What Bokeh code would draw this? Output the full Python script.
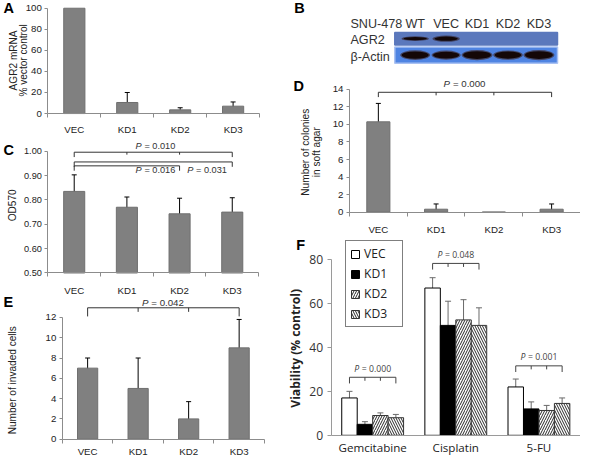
import numpy as np
from bokeh.plotting import figure
from bokeh.models import (Range1d, FixedTicker, LinearAxis, ColumnDataSource, Whisker, TeeHead,
                          Legend, LegendItem)
from bokeh.embed import file_html
from bokeh.resources import INLINE
from bokeh.core.properties import value

# ---------------- data ----------------
categories = ["VEC", "KD1", "KD2", "KD3"]

a_mrna = [100.0, 10.5, 3.5, 7.0]
a_mrna_err = [0.0, 9.5, 2.0, 4.0]
a_ticks = [0, 20, 40, 60, 80, 100]

c_od570 = [0.835, 0.770, 0.743, 0.750]
c_od570_err = [0.068, 0.042, 0.064, 0.059]
c_ticks = [0.5, 0.6, 0.7, 0.8, 0.9, 1.0]
c_tick_labels = ["0.50", "0.60", "0.70", "0.80", "0.90", "1.00"]
c_pvals = ["0.010", "0.016", "0.031"]

d_colonies = [10.3, 0.33, 0.0, 0.33]
d_colonies_err = [2.1, 0.6, 0.0, 0.6]
d_ticks = [0, 2, 4, 6, 8, 10, 12, 14]
d_pval = "0.000"

e_invaded = [7.0, 5.0, 2.0, 9.0]
e_invaded_err = [1.0, 3.0, 1.7, 2.8]
e_ticks = [0, 2, 4, 6, 8, 10, 12]
e_pval = "0.042"

blot_header = "SNU-478"
blot_lanes = ["WT", "VEC", "KD1", "KD2", "KD3"]
blot_rows = ["AGR2", "β-Actin"]
agr2_band = [0.6, 1.0, 0.0, 0.0, 0.0]
actin_band = [0.9, 0.8, 1.0, 0.85, 1.0]

drugs = ["Gemcitabine", "Cisplatin", "5-FU"]
f_series = ["VEC", "KD1", "KD2", "KD3"]
f_vec = [17.0, 67.0, 22.0]
f_vec_err = [3.0, 4.7, 3.6]
f_kd1 = [5.0, 50.0, 12.0]
f_kd1_err = [1.2, 11.0, 3.2]
f_kd2 = [9.0, 52.5, 11.3]
f_kd2_err = [1.2, 9.2, 2.3]
f_kd3 = [8.0, 50.0, 14.5]
f_kd3_err = [1.5, 8.0, 2.5]
f_pvals = ["0.000", "0.048", "0.001"]
f_ticks = [0, 20, 40, 60, 80]

panel_letters = ["A", "B", "C", "D", "E", "F"]

# ---------------- canvas: one figure, reference-pixel base ranges ----------------
W_REF, H_REF = 600, 474
K = 458 / 474
SANS = "Liberation Sans"
FFONT = "Open Sans"
AXIS_COL = "#8c8c8c"
TXT = "#222222"
BAR = "#808080"
BAR_LINE = "#6f6f6f"


def fsz(px):
    return f"{px * K:.1f}px"


p = figure(width=round(W_REF * 580 / 600), height=458, x_range=Range1d(0, W_REF),
           y_range=Range1d(H_REF, 0), x_axis_type=None, y_axis_type=None, min_border=0,
           output_backend="svg", toolbar_location=None)
p.outline_line_color = None
p.background_fill_color = "white"
p.border_fill_color = "white"


def panel_ranges(name, frame, xr, yr):
    fl, ft, fr, fb = frame
    kx = (xr[1] - xr[0]) / (fr - fl)
    ky = (yr[1] - yr[0]) / (fb - ft)
    xn, yn = name + "_x", name + "_y"
    p.extra_x_ranges[xn] = Range1d(xr[0] - fl * kx, xr[1] + (W_REF - fr) * kx)
    p.extra_y_ranges[yn] = Range1d(yr[0] - (H_REF - fb) * ky, yr[1] + ft * ky)
    return dict(x_range_name=xn, y_range_name=yn)


def y_axis(rn, x0, ticks, labels, font, size_px, color, text_color, tick_out, standoff):
    ax = LinearAxis(fixed_location=x0, ticker=FixedTicker(ticks=ticks),
                    bounds=(ticks[0], ticks[-1]), **rn)
    ax.major_label_overrides = {float(t): l for t, l in zip(ticks, labels)}
    ax.axis_line_color = color
    ax.major_tick_line_color = color
    ax.major_tick_out = tick_out
    ax.major_tick_in = 0
    ax.minor_tick_line_color = None
    ax.major_label_standoff = standoff
    ax.major_label_text_font = font
    ax.major_label_text_font_size = fsz(size_px)
    ax.major_label_text_color = text_color
    p.add_layout(ax, "left")
    return ax


def x_axis(rn, y0, n, names, font, size_px, color, text_color, standoff, boundary_ticks=True):
    centers = [i + 0.5 for i in range(n)]
    ax = LinearAxis(fixed_location=y0,
                    ticker=FixedTicker(ticks=centers,
                                       minor_ticks=list(range(n + 1)) if boundary_ticks else []),
                    bounds=(0, n), **rn)
    ax.major_label_overrides = {float(c): nm for c, nm in zip(centers, names)}
    ax.axis_line_color = color
    ax.major_tick_line_color = None
    ax.major_tick_out = 0
    ax.major_tick_in = 0
    ax.minor_tick_line_color = color if boundary_ticks else None
    ax.minor_tick_out = 4
    ax.minor_tick_in = 0
    ax.major_label_standoff = standoff
    ax.major_label_text_font = font
    ax.major_label_text_font_size = fsz(size_px)
    ax.major_label_text_color = text_color
    p.add_layout(ax, "below")
    return ax


def whiskers(rn, xs, vals, errs, floor, color, head):
    v = np.array(vals, dtype=float)
    e = np.array(errs, dtype=float)
    xs = np.array(xs, dtype=float)
    keep = e > 0
    src = ColumnDataSource(dict(x=xs[keep], up=(v + e)[keep], lo=np.maximum(v - e, floor)[keep]))
    p.add_layout(Whisker(source=src, base="x", upper="up", lower="lo", line_color=color,
                         line_width=1,
                         upper_head=TeeHead(size=head, line_color=color, line_width=1),
                         lower_head=TeeHead(size=head, line_color=color, line_width=1), **rn))


def ptext(rn, x, y, pv, font, size_px, color="#333333"):
    sz = size_px * K
    p.text(x=[x], y=[y], text=["P"], text_font=value(font), text_font_size=f"{sz:.1f}px",
           text_font_style="italic", text_align="right", text_baseline="middle",
           x_offset=-1.55 * sz, text_color=color, **rn)
    p.text(x=[x], y=[y], text=["= " + pv], text_font=value(font), text_font_size=f"{sz:.1f}px",
           text_align="left", text_baseline="middle", x_offset=-1.25 * sz, text_color=color, **rn)


def bracket(rn, xa, xb, y, drop, mids, mid_drop, color="#333333"):
    xs = [[xa, xa, xb, xb]]
    ys = [[y - drop, y, y, y - drop]]
    for m in mids:
        xs.append([m, m])
        ys.append([y, y - mid_drop])
    p.multi_line(xs, ys, line_color=color, line_width=1, **rn)


def ytitle(lines, xs, y, size_px, font=SANS, style="normal", color=TXT):
    p.text(x=xs, y=[y] * len(lines), text=lines, angle=np.pi / 2, text_font=value(font),
           text_font_size=fsz(size_px), text_font_style=style, text_align="center",
           text_baseline="middle", text_color=color)


def bar_panel(name, frame, yr, yticks, ylabels, vals, errs, xlab_standoff, tick_px=10):
    n = len(categories)
    rn = panel_ranges(name, frame, (0, n), yr)
    x = np.arange(n) + 0.5
    p.vbar(x=x, top=vals, bottom=yr[0], width=0.4, fill_color=BAR, line_color=BAR_LINE,
           line_width=1, **rn)
    whiskers(rn, x, vals, errs, yr[0], "black", 5)
    y_axis(rn, 0, yticks, ylabels, SANS, tick_px, AXIS_COL, TXT, 3, 3)
    x_axis(rn, yr[0], n, categories, SANS, 10, AXIS_COL, TXT, xlab_standoff)
    return rn


# ---------------- Panel A ----------------
rnA = bar_panel("A", (49, 8, 268, 117), (0, 100), a_ticks, [str(t) for t in a_ticks],
                a_mrna, a_mrna_err, 6)
ytitle(["AGR2 mRNA", "% vector control"], [13, 24], 62, 10.5)

# ---------------- Panel C ----------------
rnC = bar_panel("C", (49, 156, 267, 282), (0.5, 1.0), c_ticks, c_tick_labels,
                c_od570, c_od570_err, 8, tick_px=9.5)
c_spans = [(0, 3), (0, 3), (0, 2)]
c_heights = [0.996, 0.956, 0.940]
c_mids = [[1, 2], [], []]
for (ia, ib), hh, mids in zip(c_spans, c_heights, c_mids):
    bracket(rnC, ia + 0.5, ib + 0.5, hh, 0.02, [m + 0.5 for m in mids], 0.01)
c_text_pos = [(2.05, 1.021), (2.05, 0.922), (3.03, 0.922)]
for (tx, ty), pv in zip(c_text_pos, c_pvals):
    ptext(rnC, tx, ty, pv, SANS, 9.5)
ytitle(["OD570"], [12], 212, 10.5)

# ---------------- Panel E ----------------
rnE = bar_panel("E", (64, 328, 273, 454), (0, 12), e_ticks, [str(t) for t in e_ticks],
                e_invaded, e_invaded_err, 3)
bracket(rnE, 0.5, 3.5, 12.95, 0.85, [1.5, 2.5], 0.4)
ptext(rnE, 2.0, 13.45, e_pval, SANS, 10)
ytitle(["Number of invaded cells"], [12], 393, 10.5)

# ---------------- Panel D ----------------
rnD = bar_panel("D", (361, 92, 600, 219), (0, 14), d_ticks, [str(t) for t in d_ticks],
                d_colonies, d_colonies_err, 8)
bracket(rnD, 0.5, 3.5, 13.67, 0.55, [1.5, 2.5], 0.35)
ptext(rnD, 2.0, 14.66, d_pval, SANS, 10)
ytitle(["Number of colonies", "in soft agar"], [316, 327], 157, 10.5)

# ---------------- Panel B (western blot) ----------------
lane0_px, lane_px = 429, 32
p.extra_x_ranges["lane"] = Range1d(-lane0_px / lane_px, (W_REF - lane0_px) / lane_px)
rnB = dict(x_range_name="lane")
nl = len(blot_lanes)
lane_x = np.arange(nl)
label_x = (362 - lane0_px) / lane_px
strip_top = [33, 48]
strip_bot = [46, 65]
p.quad(left=[-0.66] * 2, right=[nl - 1 + 0.6] * 2, top=strip_top, bottom=strip_bot,
       fill_color=["#5b78bc", "#4f84e2"], line_color=["#5b78bc", "#a9c1f2"], line_width=1.5,
       **rnB)
p.text(x=[label_x], y=[24], text=[blot_header], text_font=value(SANS), text_font_size=fsz(13),
       text_align="left", text_baseline="middle", text_color="#333333", **rnB)
p.text(x=lane_x, y=[24] * nl, text=blot_lanes, text_font=value(SANS), text_font_size=fsz(13),
       text_align="center", text_baseline="middle", text_color="#333333", **rnB)
p.text(x=[label_x] * 2, y=[41, 58.5], text=blot_rows, text_font=value(SANS),
       text_font_size=fsz(13), text_align="left", text_baseline="middle", text_color="#333333",
       **rnB)
ag = np.array(agr2_band)
ak = ag > 0
p.ellipse(x=lane_x[ak], y=[39.5] * int(ak.sum()), width=0.88, height=2.5 + 4.0 * ag[ak],
          fill_color="#2a1414", fill_alpha=0.55, line_color=None, **rnB)
p.ellipse(x=lane_x[ak], y=[39.5] * int(ak.sum()), width=0.76, height=1.5 + 3.0 * ag[ak],
          fill_color="#120606", line_color=None, **rnB)
ac = np.array(actin_band)
p.ellipse(x=lane_x, y=[56.5] * nl, width=0.7 + 0.3 * ac, height=5 + 5.5 * ac,
          fill_color="#3a1c16", fill_alpha=0.6, line_color=None, **rnB)
p.ellipse(x=lane_x, y=[56.5] * nl, width=0.62 + 0.28 * ac, height=3.5 + 4.5 * ac,
          fill_color="#140707", line_color=None, **rnB)

# ---------------- Panel F ----------------
rnF = panel_ranges("F", (342, 268, 600, 450), (0, len(drugs)), (0, 80))
bw = 0.186
offs = (np.arange(len(f_series)) - 1.5) * bw
f_vals = [f_vec, f_kd1, f_kd2, f_kd3]
f_errs = [f_vec_err, f_kd1_err, f_kd2_err, f_kd3_err]
f_styles = [
    dict(fill_color="white", line_color="black"),
    dict(fill_color="black", line_color="black"),
    dict(fill_color="white", line_color="#333333", hatch_pattern="/", hatch_color="#2a2a2a",
         hatch_scale=5, hatch_weight=1),
    dict(fill_color="white", line_color="#333333", hatch_pattern="\\", hatch_color="#2a2a2a",
         hatch_scale=5, hatch_weight=1),
]
gx = np.arange(len(drugs)) + 0.5
items = []
for i, name in enumerate(f_series):
    xs = gx + offs[i]
    r = p.vbar(x=xs, top=f_vals[i], bottom=0, width=bw, line_width=1, **f_styles[i], **rnF)
    items.append(LegendItem(label=name, renderers=[r]))
    whiskers(rnF, xs, f_vals[i], f_errs[i], -1e9, "#6a6a6a", 6)
f_br_y = [26.4, 78.2, 31.6]
for g, hh, pv in zip(range(len(drugs)), f_br_y, f_pvals):
    bracket(rnF, gx[g] + offs[0], gx[g] + offs[-1], hh, 2.8,
            [gx[g] + offs[1], gx[g] + offs[2]], 1.6, color="#444444")
    ptext(rnF, gx[g], hh + 3.9, pv, FFONT, 9, color="#444444")
legend = Legend(items=items, location=(round(357 * 580 / 600), round((H_REF - 338) * K)))
legend.border_line_color = "black"
legend.border_line_width = 1
legend.background_fill_color = "white"
legend.label_text_font = FFONT
legend.label_text_font_size = fsz(12.5)
legend.label_text_color = "#222222"
legend.glyph_width = 10
legend.glyph_height = 10
legend.label_height = 13
legend.label_width = 34
legend.label_standoff = 4
legend.spacing = 3
legend.padding = 4
legend.margin = 0
p.add_layout(legend)
y_axis(rnF, 0, f_ticks, [str(t) for t in f_ticks], FFONT, 12.5, "#9a9a9a", "#333333", 4, 4)
x_axis(rnF, 0, len(drugs), drugs, FFONT, 12, "#9a9a9a", "#222222", 5, boundary_ticks=False)
ytitle(["Viability (% control)"], [305], 360, 12.5, font=FFONT, style="bold")

# ---------------- panel letters ----------------
letter_x = [3, 304, 3, 303, 3, 306]
letter_y = [8, 8, 155, 88, 312, 253]
p.text(x=letter_x, y=letter_y, text=panel_letters, text_font=value(SANS),
       text_font_size=fsz(15), text_font_style="bold", text_align="left",
       text_baseline="middle", text_color="black")

open("out.html", "w").write(file_html(p, INLINE))
